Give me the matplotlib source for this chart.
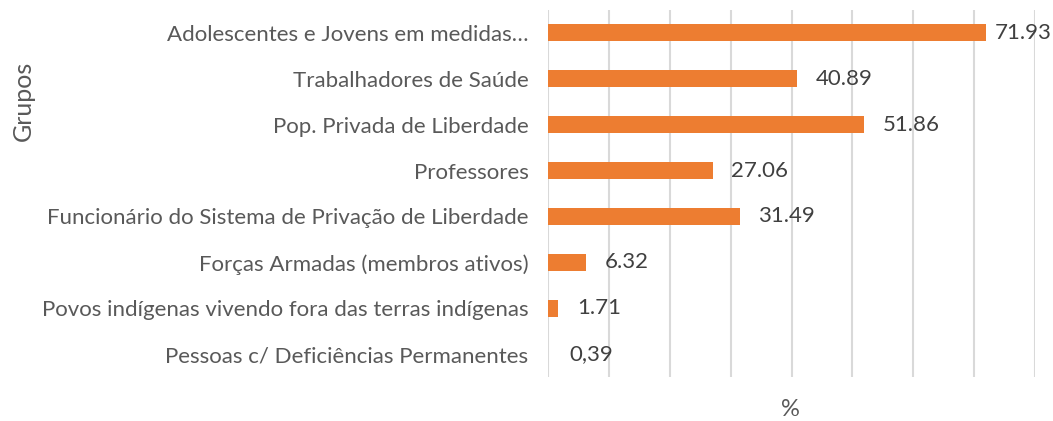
import matplotlib
matplotlib.use("Agg")
import matplotlib.pyplot as plt

categories = [
    "Adolescentes e Jovens em medidas…",
    "Trabalhadores de Saúde",
    "Pop. Privada de Liberdade",
    "Professores",
    "Funcionário do Sistema de Privação de Liberdade",
    "Forças Armadas (membros ativos)",
    "Povos indígenas vivendo fora das terras indígenas",
    "Pessoas c/ Deficiências Permanentes",
]
values = [71.93, 40.89, 51.86, 27.06, 31.49, 6.32, 1.71, 0.0]
value_labels = ["71.93", "40.89", "51.86", "27.06", "31.49", "6.32", "1.71", "0,39"]
label_x = [71.93, 40.89, 51.86, 27.06, 31.49, 6.32, 1.71, 0.39]

plt.rcParams['font.family'] = ['Lato', 'DejaVu Sans']

W, H = 1053, 421
fig = plt.figure(figsize=(W / 100, H / 100), dpi=100)
ax = fig.add_axes([548/W, 1-377/H, (1035-548)/W, (377-10)/H])

y = list(range(len(categories)))
ax.barh(y, values, height=0.37, color='#ED7D31', zorder=3)

ax.set_xlim(0, 80)
ax.set_ylim(len(categories) - 0.5, -0.5)
ax.set_yticks(y)
ax.set_yticklabels(categories, fontsize=16, color='#595959')
ax.set_xticks(range(0, 81, 10))
ax.set_xticklabels([])
ax.tick_params(axis='both', length=0)
ax.tick_params(axis='y', pad=14)
ax.grid(axis='x', color='#D9D9D9', linewidth=1.5, zorder=0)
for s in ax.spines.values():
    s.set_visible(False)

texts = []
for yi, xv, lab in zip(y, label_x, value_labels):
    t = ax.annotate(lab, xy=(xv, yi), xytext=(13.5, 0), textcoords='offset points',
                    va='center', ha='left', fontsize=16, color='#404040',
                    annotation_clip=False)
    texts.append(t)

# keep labels inside the figure (as the original chart does)
fig.canvas.draw()
r = fig.canvas.get_renderer()
limit = W - 1
for t, xv in zip(texts, label_x):
    bb = t.get_window_extent(r)
    if bb.x1 > limit:
        shift_px = bb.x1 - limit
        t.xyann = (t.xyann[0] - shift_px * 72 / 100, 0)

fig.text(23/W, 1-101/H, "Grupos", rotation=90, ha='center', va='center', fontsize=18, color='#595959')
fig.text(790/W, 1-409/H, "%", ha='center', va='center', fontsize=17, color='#595959')

fig.savefig("out.png", dpi=100)
